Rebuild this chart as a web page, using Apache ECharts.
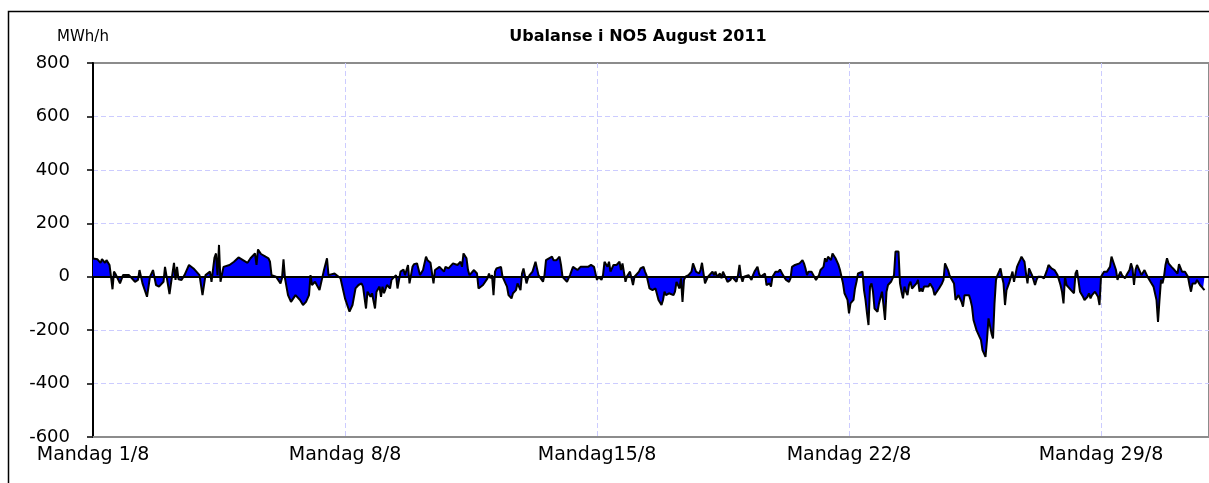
<!DOCTYPE html>
<html>
<head>
<meta charset="utf-8">
<title>Ubalanse i NO5 August 2011</title>
<script src="https://cdn.jsdelivr.net/npm/echarts/dist/echarts.min.js"></script>
<style>
    html, body { margin: 0; padding: 0; background: #fff; }
    #chart { width: 1209px; height: 483px; }
</style>
</head>
<body>
<div id="chart"></div>
<script>
// timer i august (0 = mandag 1/8 kl 00), ubalanse i MWh/h
var week1 = [[0,68],[1,69],[3,65],[5,52],[6,66],[8,52],[9,62],[11,44],[12,0],[13,-47],[14,19],[15,10],[18,-25],[20,6],[24,6],[28,-19],[30,-12],[31,25],[33,-25],[36,-75],[38,0],[40,25],[42,-31],[44,-37],[47,-19],[48,37],[51,-65],[52,-25],[54,52],[55,-12],[56,37],[57,-10],[59,-12],[61,6],[64,44],[67,31],[71,6],[73,-69],[75,6],[78,19],[79,-19],[81,72],[82,87],[83,6],[84,119],[85,-19],[87,37],[91,44],[94,56],[97,72],[100,62],[103,52],[105,69],[108,87],[109,44],[110,102],[112,85],[115,75],[117,69],[118,56],[119,6],[122,0],[125,-25],[126,-6],[127,65],[128,-6],[130,-69],[132,-94],[135,-69],[138,-87],[140,-106],[142,-94],[144,-69],[145,6],[146,-31],[148,-19],[151,-50],[152,-25],[154,25],[155,31],[156,69],[157,6],[158,0],[161,12],[162,6],[165,-6],[166,-31]];
var week2 = [[168,-81],[171,-131],[173,-106],[175,-44],[177,-31],[179,-25],[180,-37],[182,-119],[183,-56],[185,-75],[186,-62],[188,-119],[189,-56],[191,-37],[192,-75],[193,-37],[194,-62],[196,-31],[198,-44],[199,-12],[200,-19],[202,6],[203,-44],[205,19],[206,12],[207,27],[208,6],[210,44],[211,-25],[213,37],[214,47],[216,50],[217,52],[218,6],[220,25],[222,75],[223,62],[225,52],[227,-25],[228,25],[229,31],[231,37],[234,19],[235,37],[237,31],[240,50],[243,44],[245,56],[246,37],[247,87],[249,69],[250,25],[251,6],[254,25],[256,12],[257,-44],[260,-31],[263,-6],[264,12],[265,-6],[266,6],[267,-69],[268,19],[269,31],[270,37],[272,37],[273,0],[275,-25],[276,-37],[277,-69],[279,-81],[280,-62],[281,-56],[282,-50],[283,-25],[285,-50],[286,12],[287,31],[289,-25],[290,-6],[291,6],[293,19],[295,56],[297,6],[298,6],[300,-19],[301,6],[302,62],[304,69],[306,75],[307,62],[309,62],[311,75],[312,44],[313,0],[314,-6],[316,-19],[318,6],[320,37],[321,31],[323,25],[325,37],[327,37],[328,44],[330,37],[332,44],[334,37],[335,12]];
var week3 = [[336,-12],[337,0],[339,-12],[340,6],[341,56],[343,37],[344,56],[345,19],[347,44],[349,44],[351,56],[352,25],[353,50],[354,56],[355,-19],[356,2],[358,19],[360,-31],[361,0],[362,6],[364,19],[365,31],[367,37],[368,19],[369,6],[371,-44],[373,-50],[375,-44],[377,-87],[379,-106],[380,-87],[381,-56],[382,-69],[384,-62],[387,-69],[388,-56],[389,-19],[391,-44],[392,-6],[393,-94],[394,-12],[395,0],[397,6],[399,19],[400,50],[401,50],[402,19],[404,12],[405,25],[406,52],[408,-25],[409,-19],[410,0],[411,6],[413,19],[414,6],[415,19],[416,0],[418,12],[419,-6],[420,19],[422,-6],[423,-19],[425,-12],[426,0],[427,0],[429,-19],[430,6],[431,44],[432,0],[433,-19],[434,0],[435,6],[437,6],[439,-12],[440,6],[441,19],[443,37],[444,12],[445,0],[446,6],[448,12],[449,-31],[451,-25],[452,-37],[453,0],[455,19],[456,25],[457,19],[458,27],[460,6],[461,0],[462,-12],[464,-19],[465,-6],[466,37],[468,44],[471,50],[473,62],[474,50],[475,31],[476,6],[477,19],[479,19],[480,12],[482,-12],[483,-12],[484,6],[485,25],[486,31],[487,37],[488,69],[489,56],[490,75],[492,62],[493,87],[494,90],[495,69],[497,44],[498,25],[499,0],[500,-25],[501,-62],[503,-87]];
var week4 = [[504,-137],[505,-100],[506,-106],[507,-87],[508,-44],[509,-19],[510,12],[511,12],[513,19],[514,-50],[515,-87],[516,-137],[517,-181],[518,-37],[519,-25],[520,-56],[521,-119],[522,-125],[523,-131],[524,-100],[526,-56],[527,-106],[528,-162],[529,-56],[530,-31],[532,-19],[533,-12],[534,6],[535,94],[537,94],[538,-25],[539,-56],[540,-81],[541,-37],[542,-56],[543,-69],[544,-31],[545,-19],[546,-44],[547,-44],[549,-25],[550,-12],[551,-56],[552,-44],[553,-56],[554,-37],[555,-31],[557,-37],[558,-25],[560,-44],[561,-69],[562,-75],[564,-44],[565,-37],[566,-25],[567,-12],[568,50],[570,25],[571,6],[572,-6],[574,-25],[575,-87],[576,-94],[577,-69],[578,-75],[579,-94],[580,-112],[581,-69],[582,-62],[584,-69],[585,-87],[586,-112],[587,-162],[588,-169],[589,-200],[590,-206],[591,-225],[592,-237],[593,-275],[595,-300],[596,-237],[597,-156],[598,-150],[599,-212],[600,-231],[601,-100],[602,-12],[603,6],[604,12],[605,31],[606,0],[607,-25],[608,-106],[609,-50],[610,-56],[611,-19],[612,-12],[613,19],[614,-19],[616,37],[617,50],[618,62],[619,75],[620,77],[621,56],[622,12],[623,-25],[624,31],[626,6],[627,-12],[628,-31],[629,-12],[630,0],[632,0],[634,-6],[636,25],[637,44],[638,37],[639,31],[641,25],[643,6],[644,-12],[645,-31],[646,-56],[647,-100],[648,0],[649,-31],[650,-37],[652,-50],[653,-56],[654,-62],[655,12],[656,25],[657,31],[658,-56],[659,-62],[660,-75],[661,-87],[663,-75],[664,-62],[665,-81],[666,-69],[668,-56],[669,-50],[670,-75],[671,-106]];
var week5 = [[672,0],[674,19],[675,25],[676,19],[678,37],[679,75],[680,69],[682,25],[683,-12],[684,6],[685,19],[686,6],[688,-6],[689,6],[691,25],[692,50],[693,31],[694,-31],[695,25],[696,44],[697,37],[699,6],[700,6],[701,25],[702,31],[703,0],[705,-19],[706,-25],[707,-37],[708,-44],[709,-87],[710,-169],[711,-87],[712,-12],[713,-25],[714,0],[715,44],[716,69],[717,50],[719,37],[720,31],[721,25],[722,31],[723,12],[724,47],[725,44],[726,19],[727,25],[728,19],[730,0],[731,-31],[732,-56],[733,-25],[734,-19],[735,-25],[736,-12],[737,-12],[738,-31],[740,-44],[741,-50]];

// akser
var mondayLabels = ['Mandag 1/8', 'Mandag 8/8', 'Mandag15/8', 'Mandag 22/8', 'Mandag 29/8'];
var hoursPerWeek = 168;
var hoursInMonth = 744;
var yMin = -600, yMax = 800, yStep = 200;

var imbalance = week1.concat(week2, week3, week4, week5);

var myChart = echarts.init(document.getElementById('chart'));
var gridColor = '#ccccff';
var font = 'DejaVu Sans';

option = {
    animation: false,
    backgroundColor: '#fff',
    grid: {
        left: 93,
        top: 63,
        bottom: 46,
        right: -4,
        show: true,
        borderColor: '#8c8c8c',
        borderWidth: 2,
        backgroundColor: 'transparent'
    },
    graphic: [
        {
            // ytre ramme
            type: 'rect',
            silent: true,
            shape: {x: 8.5, y: 11.5, width: 1300, height: 600},
            style: {fill: 'none', stroke: '#000', lineWidth: 1.5}
        },
        {
            type: 'text',
            x: 638, y: 37,
            style: {
                text: 'Ubalanse i NO5 August 2011',
                fontFamily: font, fontWeight: 'bold', fontSize: 16,
                fill: '#000', align: 'center', verticalAlign: 'middle'
            }
        },
        {
            type: 'text',
            x: 83, y: 37,
            style: {
                text: 'MWh/h',
                fontFamily: font, fontSize: 15,
                fill: '#000', align: 'center', verticalAlign: 'middle'
            }
        }
    ],
    xAxis: {
        type: 'value',
        min: 0,
        max: hoursInMonth,
        interval: hoursPerWeek,
        axisLine: {onZero: false, lineStyle: {color: '#8c8c8c', width: 2}},
        axisTick: {show: false},
        axisLabel: {
            margin: 9,
            color: '#000',
            fontFamily: font,
            fontSize: 19,
            showMaxLabel: false,
            formatter: function (v) {
                return mondayLabels[Math.round(v / hoursPerWeek)] || '';
            }
        },
        splitLine: {
            show: true,
            showMinLine: false,
            showMaxLine: false,
            lineStyle: {color: gridColor, width: 1, type: [5, 3]}
        }
    },
    yAxis: {
        type: 'value',
        min: yMin,
        max: yMax,
        interval: yStep,
        axisLine: {show: true, lineStyle: {color: '#000', width: 2}},
        axisTick: {show: true, length: 6, lineStyle: {color: '#000', width: 1.5}},
        axisLabel: {
            margin: 23,
            color: '#000',
            fontFamily: font,
            fontSize: 18
        },
        splitLine: {
            show: true,
            showMinLine: false,
            showMaxLine: false,
            lineStyle: {color: gridColor, width: 1, type: [5, 3]}
        }
    },
    series: [{
        type: 'line',
        name: 'Ubalanse',
        data: imbalance,
        showSymbol: false,
        symbol: 'none',
        clip: true,
        lineStyle: {color: '#000', width: 2},
        areaStyle: {color: '#0000ff', opacity: 1, origin: 0},
        markLine: {
            silent: true,
            symbol: ['none', 'none'],
            label: {show: false},
            lineStyle: {color: '#000', width: 2, type: 'solid'},
            data: [{yAxis: 0}]
        }
    }]
};

myChart.setOption(option);
</script>
</body>
</html>
